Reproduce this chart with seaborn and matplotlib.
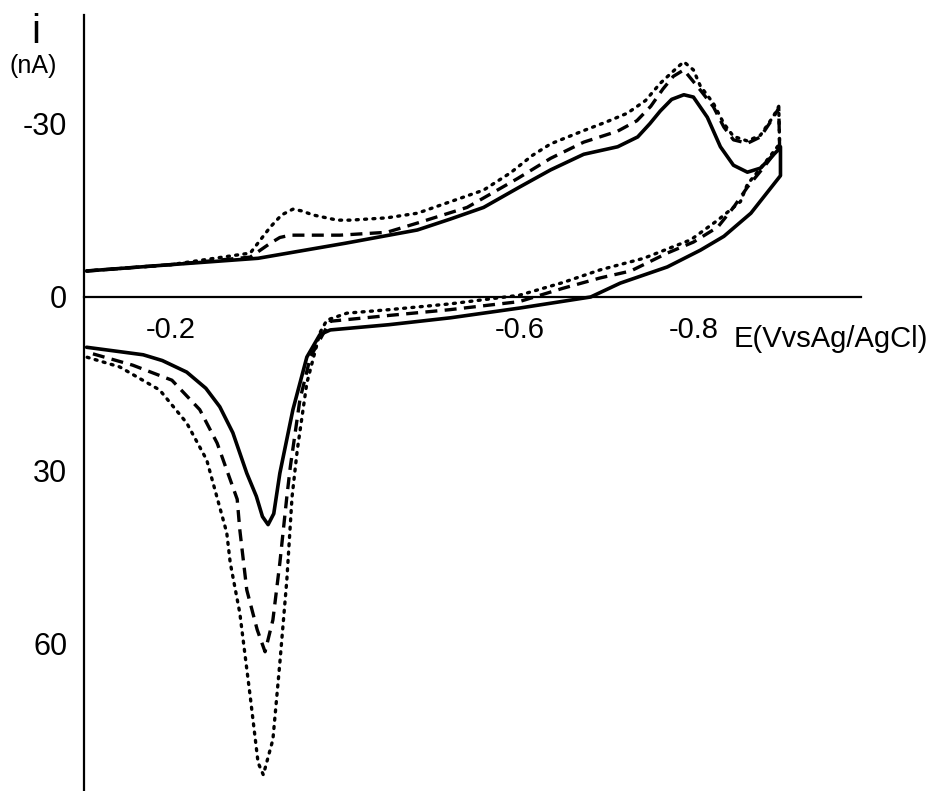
import matplotlib
matplotlib.use("Agg")
import matplotlib.pyplot as plt
import seaborn as sns
import pandas as pd

# ---- data (E in V vs Ag/AgCl, i in nA; cathodic current negative) ----
solid_E = [-0.103, -0.200, -0.300, -0.400, -0.483, -0.521, -0.559, -0.600, -0.636, -0.674,
           -0.713, -0.736, -0.750, -0.762, -0.775, -0.789, -0.800, -0.816, -0.831, -0.846,
           -0.862, -0.877, -0.897, -0.900,
           -0.900, -0.866, -0.835, -0.808, -0.770, -0.716, -0.682, -0.601, -0.521, -0.450,
           -0.383, -0.371, -0.356, -0.340, -0.325, -0.318, -0.3115, -0.305, -0.298, -0.287,
           -0.271, -0.256, -0.240, -0.218, -0.190, -0.168, -0.103]
solid_i = [-4.5, -5.6, -6.7, -9.3, -11.6, -13.5, -15.5, -19.0, -22.0, -24.7,
           -26.0, -27.7, -30.0, -32.2, -34.2, -35.0, -34.6, -31.1, -26.0, -22.8,
           -21.6, -22.3, -25.4, -26.0,
           -21.0, -14.5, -10.5, -8.1, -5.2, -2.4, 0.0, 1.9, 3.6, 4.8,
           5.7, 6.5, 10.4, 19.5, 30.5, 37.5, 39.4, 38.0, 34.5, 30.5,
           23.5, 19.0, 15.8, 13.0, 11.0, 10.0, 8.7]

dashed_E = [-0.103, -0.200, -0.291, -0.314, -0.325, -0.337, -0.394, -0.448, -0.483, -0.540,
            -0.598, -0.636, -0.674, -0.713, -0.735, -0.751, -0.765, -0.777, -0.789, -0.808,
            -0.823, -0.835, -0.846, -0.862, -0.877, -0.892, -0.898,
            -0.899, -0.881, -0.862, -0.846, -0.828, -0.800, -0.770, -0.728, -0.693, -0.650,
            -0.600, -0.520, -0.450, -0.383, -0.379, -0.360, -0.348, -0.337, -0.333, -0.325,
            -0.317, -0.308, -0.299, -0.287, -0.279, -0.276, -0.253, -0.233, -0.201, -0.156,
            -0.107]
dashed_i = [-4.5, -5.6, -6.9, -9.3, -10.3, -10.7, -10.7, -11.2, -12.8, -15.5,
            -20.5, -24.0, -26.8, -28.7, -30.5, -33.0, -36.0, -38.2, -39.3, -35.8,
            -32.9, -29.4, -27.2, -26.6, -27.7, -31.1, -32.7,
            -26.0, -22.5, -19.0, -15.5, -12.1, -9.5, -7.6, -4.5, -3.3, -1.5,
            0.8, 2.2, 3.2, 4.2, 5.2, 10.4, 17.8, 29.4, 34.6, 46.0,
            55.9, 61.4, 57.6, 50.7, 40.3, 35.0, 25.3, 19.5, 14.4, 11.8,
            9.7]

dotted_E = [-0.103, -0.200, -0.291, -0.314, -0.327, -0.340, -0.350, -0.363, -0.391, -0.406,
            -0.448, -0.483, -0.559, -0.590, -0.615, -0.636, -0.674, -0.700, -0.724, -0.745,
            -0.762, -0.782, -0.789, -0.800, -0.808, -0.823, -0.835, -0.846, -0.862, -0.877,
            -0.892, -0.898,
            -0.899, -0.881, -0.862, -0.854, -0.828, -0.797, -0.743, -0.693, -0.650, -0.600,
            -0.520, -0.450, -0.402, -0.379, -0.371, -0.356, -0.345, -0.339, -0.333, -0.325,
            -0.317, -0.306, -0.300, -0.291, -0.279, -0.268, -0.264, -0.241, -0.218, -0.187,
            -0.141, -0.103]
dotted_i = [-4.5, -5.6, -7.6, -12.1, -14.2, -15.2, -14.9, -14.2, -13.3, -13.3,
            -13.7, -14.5, -18.5, -21.5, -24.5, -26.5, -28.8, -30.3, -31.8, -34.0,
            -37.0, -39.8, -40.7, -39.3, -36.5, -33.5, -30.0, -27.8, -27.0, -28.0,
            -31.3, -33.0,
            -26.5, -23.0, -19.5, -16.5, -13.3, -9.9, -6.7, -4.7, -2.5, -0.3,
            1.2, 2.2, 2.8, 4.0, 6.2, 14.9, 26.5, 34.6, 49.0, 63.3,
            76.6, 82.7, 80.6, 69.2, 54.7, 46.0, 40.8, 28.2, 21.8, 16.1,
            12.1, 10.4]

x_ticks = [-0.2, -0.3, -0.4, -0.5, -0.6, -0.7, -0.8, -0.9]
x_labels = ["-0.2", "", "", "", "-0.6", "", "-0.8", ""]
y_ticks = [-30, 0, 30, 60]
y_labels = ["-30", "0", "30", "60"]

sns.set_style("white")
plt.rcParams["font.family"] = ["Liberation Sans Narrow", "Liberation Sans", "DejaVu Sans"]

fig = plt.figure(figsize=(9.35, 7.91), dpi=100)
ax = fig.add_axes([0.0898, 0.0, 0.8306, 0.981])

def frame(E, I):
    return pd.DataFrame({"E": E, "i": I})

sns.lineplot(data=frame(solid_E, solid_i), x="E", y="i", sort=False, estimator=None,
             ax=ax, color="black", lw=2.6, solid_capstyle="round", solid_joinstyle="round")
sns.lineplot(data=frame(dashed_E, dashed_i), x="E", y="i", sort=False, estimator=None,
             ax=ax, color="black", lw=2.4, linestyle=(0, (3.6, 2.2)))
sns.lineplot(data=frame(dotted_E, dotted_i), x="E", y="i", sort=False, estimator=None,
             ax=ax, color="black", lw=2.4, linestyle=(0, (0.6, 1.9)), dash_capstyle="round")

ax.set_xlim(-0.1, -0.992)
ax.set_ylim(85.5, -48.8)

for s in ["top", "right"]:
    ax.spines[s].set_visible(False)
ax.spines["left"].set_position(("axes", 0))
ax.spines["bottom"].set_position(("data", 0))
for s in ["left", "bottom"]:
    ax.spines[s].set_linewidth(1.6)
    ax.spines[s].set_color("black")

ax.set_xticks(x_ticks)
ax.set_xticklabels(x_labels)
ax.set_yticks(y_ticks)
ax.set_yticklabels(y_labels)
ax.tick_params(axis="x", direction="inout", length=11, width=1.6, pad=8, labelsize=21, colors="black")
ax.tick_params(axis="y", direction="out", length=9, width=1.6, pad=3, labelsize=22, colors="black")
ax.set_xlabel("")
ax.set_ylabel("")

fig.text(0.038, 0.984, "i", fontsize=29, ha="center", va="top", color="black")
fig.text(0.035, 0.932, "(nA)", fontsize=18, ha="center", va="top", color="black")
fig.text(0.785, 0.572, "E(VvsAg/AgCl)", fontsize=21, ha="left", va="center", color="black")

fig.savefig("out.png", dpi=100)
